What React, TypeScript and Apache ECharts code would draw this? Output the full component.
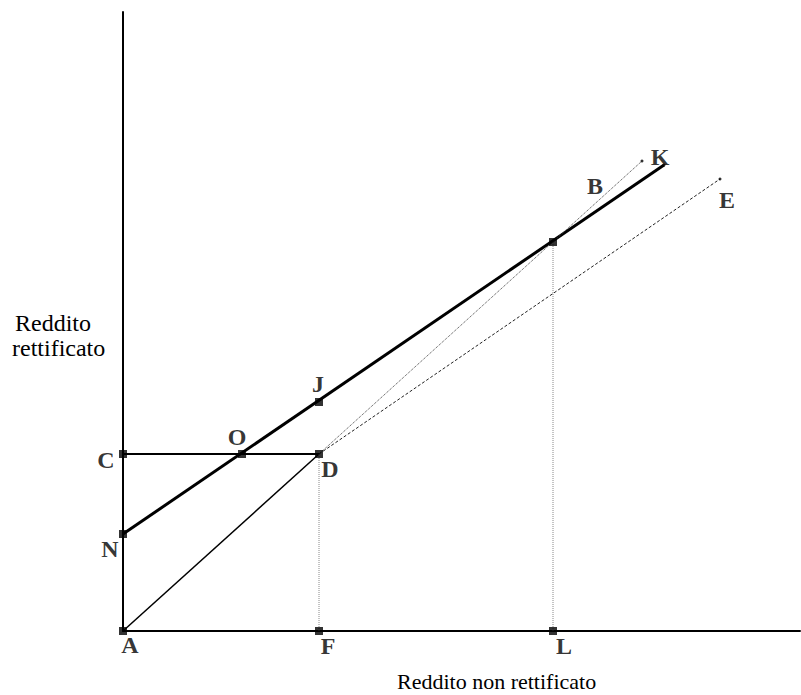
import React, { useEffect, useRef } from "react";
import * as echarts from "echarts";

// Point labels and their coordinates (abstract income units)
const pointNames = ["A", "F", "L", "C", "D", "O", "J", "N", "M"];
const pointX = [0, 19.6, 43.0, 0, 19.6, 11.9, 19.6, 0, 43.0];
const pointY = [0, 0, 0, 17.7, 17.7, 17.7, 22.9, 9.7, 38.9];

// End points of the rays
const endNames = ["B", "K", "E"];
const endX = [51.9, 54.1, 59.7];
const endY = [47.0, 46.6, 45.2];

const xAxisTitle = "Reddito non rettificato";
const yAxisTitle = ["Reddito", "rettificato"];

const AXIS_MAX_X = 67.7;
const AXIS_MAX_Y = 61.9;

function pt(name: string): [number, number] {
  const i = pointNames.indexOf(name);
  if (i >= 0) return [pointX[i], pointY[i]];
  const j = endNames.indexOf(name);
  return [endX[j], endY[j]];
}

const labelOffsets: Record<string, [number, number]> = {
  A: [7, 14],
  F: [9, 15],
  L: [11, 15],
  C: [-17, 6],
  N: [-13, 15],
  O: [-5, -17],
  J: [-1, -18],
  D: [11, 15],
  M: [0, 0],
  B: [-47, 25],
  K: [-4, -8],
  E: [7, 21],
};

const FONT = "Liberation Serif";

const seriesLabel = {
  show: true,
  position: "inside",
  fontFamily: FONT,
  fontWeight: "bold",
  fontSize: 24,
  color: "#000",
  formatter: (p: any) => (p.name === "M" ? "" : p.name),
};

function seg(a: string, b: string, width: number, type: any, color: string) {
  return {
    type: "line",
    data: [pt(a), pt(b)],
    symbol: "none",
    silent: true,
    lineStyle: { width, type, color, cap: "butt" },
    z: 2,
  };
}

export default function App() {
  const ref = useRef<HTMLDivElement>(null);
  useEffect(() => {
    if (!ref.current) return;
    const chart = echarts.init(ref.current, undefined, { renderer: "svg" });
    const titleStyle = (text: string, size: number) => ({
      text,
      fontFamily: FONT,
      fontSize: size,
      fill: "#000",
    });
    chart.setOption({
      animation: false,
      backgroundColor: "#fff",
      textStyle: { fontFamily: FONT },
      grid: { left: 123, right: 1, top: 12, bottom: 64 },
      xAxis: {
        type: "value",
        min: 0,
        max: AXIS_MAX_X,
        axisLine: { show: true, onZero: false, lineStyle: { color: "#000", width: 2 } },
        axisTick: { show: false },
        axisLabel: { show: false },
        splitLine: { show: false },
      },
      yAxis: {
        type: "value",
        min: 0,
        max: AXIS_MAX_Y,
        axisLine: { show: true, onZero: false, lineStyle: { color: "#000", width: 2 } },
        axisTick: { show: false },
        axisLabel: { show: false },
        splitLine: { show: false },
      },
      graphic: [
        { type: "text", left: 397, top: 670, style: titleStyle(xAxisTitle, 22) },
        { type: "text", left: 15, top: 311, style: titleStyle(yAxisTitle[0], 24) },
        { type: "text", left: 12, top: 336, style: titleStyle(yAxisTitle[1], 24) },
      ],
      series: [
        seg("N", "K", 3, "solid", "#000"),
        seg("C", "D", 2, "solid", "#000"),
        seg("A", "D", 1.5, "solid", "#000"),
        seg("D", "F", 1, "dotted", "#888"),
        seg("M", "L", 1, "dotted", "#888"),
        seg("D", "B", 1, "dotted", "#444"),
        seg("D", "E", 1, [3, 2], "#222"),
        {
          type: "scatter",
          symbol: "rect",
          symbolSize: 8,
          itemStyle: { color: "#000" },
          label: seriesLabel,
          z: 5,
          data: pointNames.map((n, i) => ({
            name: n,
            value: [pointX[i], pointY[i]],
            label: { offset: labelOffsets[n] },
          })),
        },
        {
          type: "scatter",
          symbol: "circle",
          symbolSize: 3,
          itemStyle: { color: "#000" },
          label: seriesLabel,
          z: 5,
          data: endNames.map((n, i) => ({
            name: n,
            value: [endX[i], endY[i]],
            label: { offset: labelOffsets[n] },
          })),
        },
      ],
    });
    return () => chart.dispose();
  }, []);
  return (
    <div
      ref={ref}
      style={{ position: "fixed", left: 0, top: 0, width: 801, height: 695 }}
    />
  );
}
